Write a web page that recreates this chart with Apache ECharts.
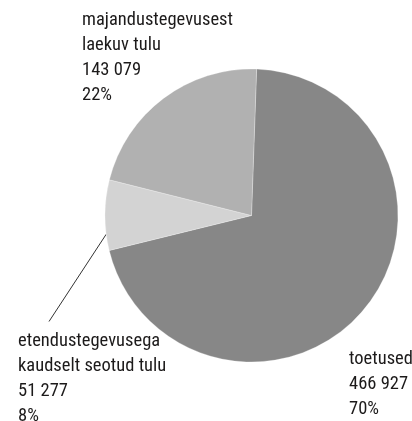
<!DOCTYPE html>
<html>
<head>
<meta charset="utf-8">
<script src="https://cdn.jsdelivr.net/npm/echarts@6/dist/echarts.min.js"></script>
<style>
  html, body { margin: 0; padding: 0; background: #ffffff; }
  #chart { width: 412px; height: 421px; }
</style>
</head>
<body>
<div id="chart"></div>
<script>
// Income sources (euros) and their shares
const names = ['toetused', 'etendustegevusega\nkaudselt seotud tulu', 'majandustegevusest\nlaekuv tulu'];
const values = [466927, 51277, 143079];
const shares = ['70%', '8%', '22%'];

const sliceColors = ['#878787', '#d3d3d3', '#b1b1b1'];
// top-left corner of each label block
const labelSpots = [[349, 347], [18, 328.5], [82, 8]];

const pieCenter = [251.5, 215.5];

function groupThousands(v) {
  return String(v).replace(/\B(?=(\d{3})+(?!\d))/g, ' ');
}

// turn a point around the pie centre by deg degrees (screen orientation)
function turn(pt, deg) {
  const a = deg * Math.PI / 180;
  const dx = pt[0] - pieCenter[0], dy = pt[1] - pieCenter[1];
  return [pieCenter[0] + dx * Math.cos(a) - dy * Math.sin(a),
          pieCenter[1] + dx * Math.sin(a) + dy * Math.cos(a)];
}

const chart = echarts.init(document.getElementById('chart'), null, { renderer: 'canvas' });

chart.setOption({
  animation: false,
  backgroundColor: '#ffffff',
  series: [{
    type: 'pie',
    center: pieCenter,
    radius: 146.5,
    startAngle: 88,
    clockwise: true,
    silent: true,
    itemStyle: { borderColor: 'rgba(255,255,255,0.5)', borderWidth: 0.5 },
    label: {
      show: true,
      position: 'outside',
      width: 220,
      overflow: 'none',
      color: '#1c1a1a',
      fontFamily: "'Roboto Condensed', 'Roboto', sans-serif",
      fontSize: 18.5,
      lineHeight: 25,
      align: 'left',
      formatter: p => names[p.dataIndex] + '\n' + groupThousands(values[p.dataIndex]) + '\n' + shares[p.dataIndex]
    },
    labelLine: { show: false },
    labelLayout: function (params) {
      const i = params.dataIndex;
      const spot = labelSpots[i];
      const out = { x: spot[0], y: spot[1], align: 'left', verticalAlign: 'top' };
      if (i === 1 && params.labelLinePoints) {
        out.labelLinePoints = [turn(params.labelLinePoints[0], -7.5), [spot[0] + 31, spot[1] - 7]];
      }
      return out;
    },
    data: values.map((v, i) => ({
      name: names[i],
      value: v,
      itemStyle: { color: sliceColors[i] },
      labelLine: i === 1
        ? { show: true, length: 20, length2: 0, smooth: false, lineStyle: { color: '#333333', width: 1 } }
        : { show: false }
    }))
  }]
});
</script>
</body>
</html>
